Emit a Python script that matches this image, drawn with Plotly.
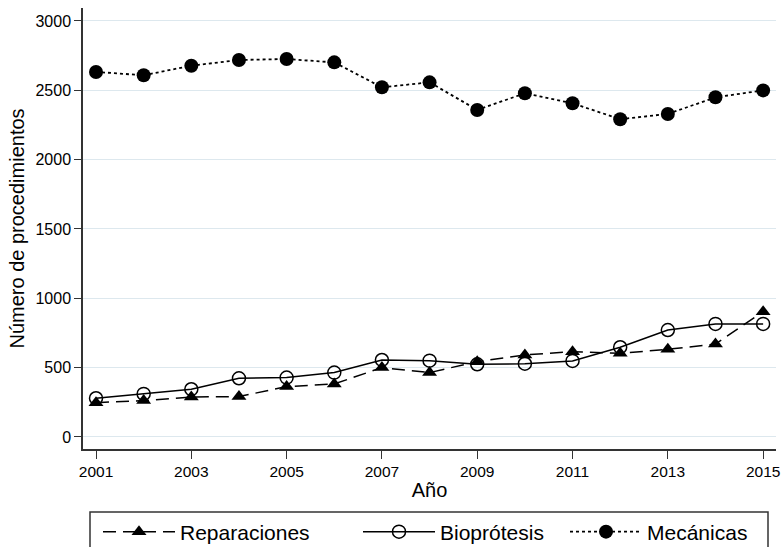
import plotly.graph_objects as go

years = list(range(2001, 2016))
reparaciones = [247, 262, 288, 291, 363, 382, 500, 464, 543, 591, 615, 603, 632, 670, 903]
bioprotesis = [279, 310, 344, 423, 428, 464, 555, 550, 524, 528, 548, 647, 771, 815, 815]
mecanicas = [2632, 2608, 2677, 2718, 2725, 2701, 2521, 2557, 2358, 2478, 2406, 2291, 2329, 2449, 2499]
xticks = [2001, 2003, 2005, 2007, 2009, 2011, 2013, 2015]
yticks = [0, 500, 1000, 1500, 2000, 2500, 3000]

FONT = "Liberation Sans, Arial, sans-serif"

fig = go.Figure()
fig.add_trace(go.Scatter(
    x=years, y=reparaciones, name="Reparaciones", mode="lines+markers",
    line=dict(color="black", width=1.5, dash="13px,7px"),
    marker=dict(symbol="triangle-up", size=13, color="black"),
    legend="legend"))
fig.add_trace(go.Scatter(
    x=years, y=bioprotesis, name="Bioprótesis", mode="lines+markers",
    line=dict(color="black", width=1.5),
    marker=dict(symbol="circle-open", size=13, color="black", line=dict(width=1.5)),
    legend="legend2"))
fig.add_trace(go.Scatter(
    x=years, y=mecanicas, name="Mecánicas", mode="lines+markers",
    line=dict(color="black", width=1.8, dash="dot"),
    marker=dict(symbol="circle", size=14, color="black"),
    legend="legend3"))

W, H = 781, 547
L, R, T, B = 83, 5, 8, 98
pw, ph = W - L - R, H - T - B

def px_to_paper_x(px):
    return (px - L) / pw

def px_to_paper_y(py):
    return (H - B - py) / ph

leg_common = dict(orientation="h", xanchor="left", yanchor="middle",
                  font=dict(family=FONT, size=21, color="black"),
                  bgcolor="rgba(0,0,0,0)", borderwidth=0, itemwidth=72)

LEG_Y = px_to_paper_y(532)

fig.update_layout(
    width=W, height=H,
    margin=dict(l=L, r=R, t=T, b=B, autoexpand=False),
    showlegend=True,
    plot_bgcolor="white", paper_bgcolor="white",
    font=dict(family=FONT, color="black"),
    xaxis=dict(range=[2000.727, 2015.27], tickvals=xticks, showgrid=False,
               showline=True, linecolor="#333", linewidth=1.5,
               ticks="outside", ticklen=8, tickcolor="#333",
               tickfont=dict(size=15.5), zeroline=False,
               title=dict(text="Año", font=dict(size=20), standoff=4)),
    yaxis=dict(range=[-87, 3093], tickvals=yticks, showgrid=True,
               gridcolor="#dde8ee", gridwidth=1,
               showline=True, linecolor="#333", linewidth=1.5,
               ticks="outside", ticklen=7, tickcolor="#333",
               tickfont=dict(size=16), zeroline=False,
               title=dict(text="Número de procedimientos", font=dict(size=20), standoff=5)),
    legend=dict(x=px_to_paper_x(98), y=LEG_Y, **leg_common),
    legend2=dict(x=px_to_paper_x(358), y=LEG_Y, **leg_common),
    legend3=dict(x=px_to_paper_x(565), y=LEG_Y, **leg_common),
    shapes=[dict(type="rect", xref="paper", yref="paper",
                 x0=px_to_paper_x(90), x1=px_to_paper_x(768),
                 y0=px_to_paper_y(512), y1=px_to_paper_y(560),
                 line=dict(color="#333", width=1.5), fillcolor="rgba(0,0,0,0)")],
)

fig.write_html("out.html")
